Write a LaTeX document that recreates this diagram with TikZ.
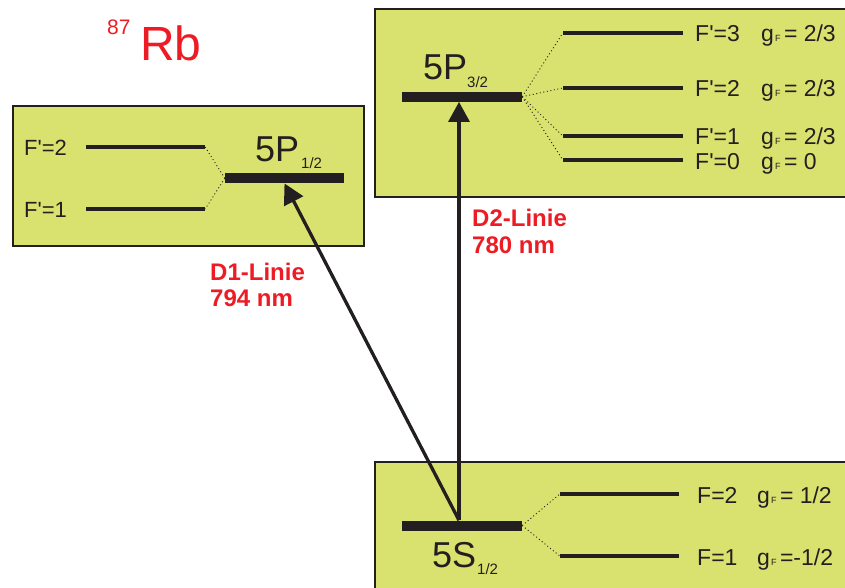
\documentclass[tikz,border=0pt]{standalone}
\usepackage{fontspec}
\setmainfont{Liberation Sans}[Ligatures=TeXOff]
\usetikzlibrary{arrows.meta}
\definecolor{boxfill}{RGB}{217,226,110}
\definecolor{ink}{RGB}{35,31,32}
\definecolor{rbred}{RGB}{237,28,36}
\newcommand{\gsub}{g\hspace{1pt}{\fontsize{9}{9}\selectfont F}\hspace{3.5pt}}
\begin{document}
\begin{tikzpicture}[x=1pt,y=-1pt,
  panel/.style={draw=ink,line width=1.2pt,fill=boxfill},
  bar/.style={fill=ink,inner sep=0,minimum width=120pt,minimum height=10pt},
  lvl/.style={fill=ink,inner sep=0,minimum width=120pt,minimum height=3.6pt},
  split/.style={draw=ink,line width=0.9pt,dash pattern=on 1pt off 2.6pt},
  lbl/.style={anchor=base west,inner sep=0,text=ink,font=\fontsize{23}{23}\selectfont},
  big/.style={anchor=base west,inner sep=0,text=ink,font=\fontsize{36}{36}\selectfont},
  sub/.style={anchor=base west,inner sep=0,text=ink,font=\fontsize{15}{15}\selectfont},
  red/.style={anchor=base west,inner sep=0,text=rbred,font=\bfseries\fontsize{24}{24}\selectfont},
  trans/.style={draw=ink,line width=3.3pt,-{Triangle[length=20pt,width=21pt]}}
]
\useasboundingbox (0,0) rectangle (845,588);
\clip (0,0) rectangle (845,588);
% panels
\path[panel] (13,106) rectangle (364,246);
\path[panel] (375,9) rectangle (850,197);
\path[panel] (375,462) rectangle (850,595);

% isotope
\node[anchor=base west,inner sep=0,text=rbred,font=\fontsize{48}{48}\selectfont] (rb) at (140,61) {Rb};
\node[anchor=base west,inner sep=0,text=rbred,font=\fontsize{21}{21}\selectfont] (mass) at (107,35) {87};

% 5P1/2 panel
\node[bar,minimum width=119pt] (p12) at (284.5,178.3) {};
\node[lvl,minimum width=119pt] (l2a) at (145.5,147) {};
\node[lvl,minimum width=119pt] (l1a) at (145.5,209) {};
\draw[split] (p12.west) -- (l2a.east);
\draw[split] (p12.west) -- (l1a.east);
\node[lbl,font=\fontsize{22}{22}\selectfont] (t2a) at (24,155.5) {F'=2};
\node[lbl,font=\fontsize{22}{22}\selectfont] (t1a) at (24,217.5) {F'=1};
\node[big] (n12) at (255,162) {5P};
\node[sub] (s12) at (301,168) {1/2};

% 5P3/2 panel
\node[bar] (p32) at (462,96.7) {};
\node[lvl] (l3) at (623,33) {};
\node[lvl] (l2) at (623,88) {};
\node[lvl] (l1) at (623,136) {};
\node[lvl] (l0) at (623,160) {};
\foreach \n in {l3,l2,l1,l0} \draw[split] (p32.east) -- (\n.west);
\node[big] (n32) at (423,80) {5P};
\node[sub] (s32) at (467,88) {3/2};
\node[lbl] (t3) at (695,42) {F'=3};
\node[lbl] (t2) at (695,97) {F'=2};
\node[lbl] (t1) at (695,145) {F'=1};
\node[lbl] (t0) at (695,169) {F'=0};
\node[lbl] (g3) at (761,42) {\gsub= 2/3};
\node[lbl] (g2) at (761,97) {\gsub= 2/3};
\node[lbl] (g1) at (761,145) {\gsub= 2/3};
\node[lbl] (g0) at (761,169) {\gsub= 0};

% 5S1/2 panel
\node[bar] (s5) at (462,525.5) {};
\node[lvl,minimum width=119pt] (f2) at (619.5,494) {};
\node[lvl,minimum width=119pt] (f1) at (619.5,556) {};
\draw[split] (s5.east) -- (f2.west);
\draw[split] (s5.east) -- (f1.west);
\node[big] (n5s) at (432,567) {5S};
\node[sub] (s5s) at (477,574) {1/2};
\node[lbl] (tf2) at (697,503) {F=2};
\node[lbl] (tf1) at (697,565) {F=1};
\node[lbl] (gf2) at (757,503) {\gsub= 1/2};
\node[lbl] (gf1) at (757,565) {\gsub=-1/2};

% transitions
\draw[trans] ([xshift=-3pt]s5.north) -- ([xshift=-3pt]p32.south);
\draw[trans] ([xshift=-3pt]s5.north) -- (p12.south);
\node[red] (d1) at (210,280) {D1-Linie};
\node[red] (d1w) at (210,306) {794 nm};
\node[red] (d2) at (472,226) {D2-Linie};
\node[red] (d2w) at (472,253) {780 nm};
\end{tikzpicture}
\end{document}
